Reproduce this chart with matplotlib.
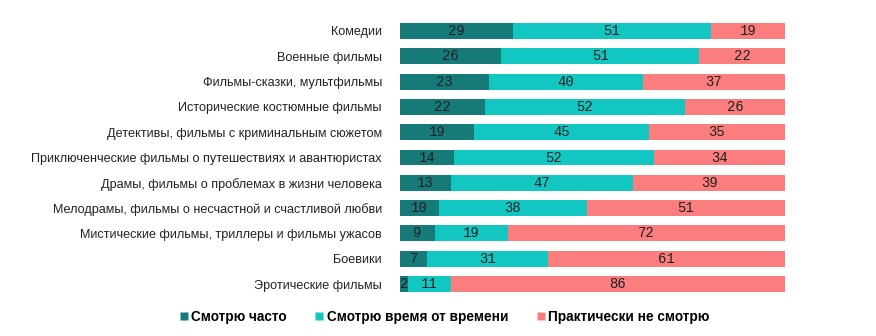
import matplotlib.pyplot as plt
import numpy as np
from matplotlib.lines import Line2D

genres = ['Комедии', 'Военные фильмы', 'Фильмы-сказки, мультфильмы',
          'Исторические костюмные фильмы', 'Детективы, фильмы с криминальным сюжетом',
          'Приключенческие фильмы о путешествиях и авантюристах',
          'Драмы, фильмы о проблемах в жизни человека',
          'Мелодрамы, фильмы о несчастной и счастливой любви',
          'Мистические фильмы, триллеры и фильмы ужасов',
          'Боевики', 'Эротические фильмы']
often = [29, 26, 23, 22, 19, 14, 13, 10, 9, 7, 2]
sometimes = [51, 51, 40, 52, 45, 52, 47, 38, 19, 31, 11]
never = [19, 22, 37, 26, 35, 34, 39, 51, 72, 61, 86]
series_names = ['Смотрю часто', 'Смотрю время от времени', 'Практически не смотрю']
colors = ['#167a79', '#12c6c1', '#fb7d7d']

data = np.array([often, sometimes, never], dtype=float)
shares = data / data.sum(axis=0) * 100  # rows stretched to full width

fig = plt.figure(figsize=(8.76, 3.36), dpi=100)
ax = fig.add_axes([0.4566, 0.1171, 0.4395, 0.8283])
y = np.arange(len(genres))
left = np.zeros(len(genres))
for vals, raw, c in zip(shares, data, colors):
    ax.barh(y, vals, left=left, height=0.63, color=c, edgecolor='none')
    for yi, l, w, r in zip(y, left, vals, raw):
        ax.text(l + w / 2, yi, f'{int(r)}', ha='center', va='center',
                fontsize=10, family='Liberation Mono', color='#222222')
    left += vals

ax.set_xlim(0, 100)
ax.set_ylim(len(genres) - 0.5, -0.5)
ax.set_yticks(y, genres, fontsize=9.1, family='Liberation Sans', color='#222222')
ax.tick_params(axis='y', length=0, pad=13)
ax.set_xticks([])
for s in ax.spines.values():
    s.set_visible(False)

handles = [Line2D([], [], marker='s', linestyle='none', markersize=6,
                  markerfacecolor=c, markeredgecolor='none') for c in colors]
fig.legend(handles, series_names, loc='center', bbox_to_anchor=(0.506, 0.058),
           ncol=3, frameon=False, handletextpad=0.05, handlelength=1.0,
           columnspacing=1.9,
           prop={'family': 'Liberation Sans', 'weight': 'bold', 'size': 9.8})

fig.savefig('out.png', dpi=100)
